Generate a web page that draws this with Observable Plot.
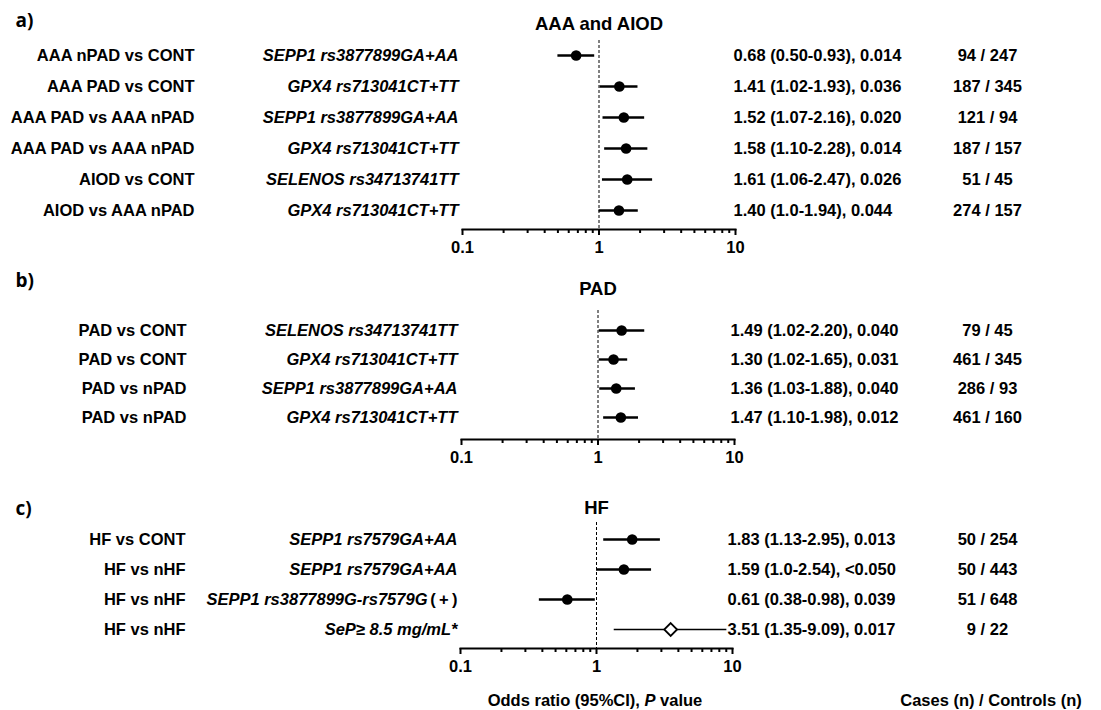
<!DOCTYPE html>
<html><head><meta charset="utf-8">
<script src="https://cdn.jsdelivr.net/npm/d3@7"></script>
<script src="https://cdn.jsdelivr.net/npm/@observablehq/plot@0.6"></script>
<style>
body{margin:0;background:#fff;}
#chart{width:1101px;position:relative;font-family:"Liberation Sans",Arial,sans-serif;color:#000;}
#chart svg{display:block;}
.cap{position:relative;height:20px;font-weight:bold;font-size:16.5px;}
.cap span{position:absolute;top:0;line-height:20px;transform:translateX(-50%);white-space:nowrap;}
</style></head><body><div id="chart"></div>
<script>
// ---- axis ticks ----
const majorTicks = [0.1, 1, 10];
const tickLabels = ["0.1", "1", "10"];
const minorTicks = [0.2, 0.3, 0.4, 0.5, 0.6, 0.7, 0.8, 0.9, 2, 3, 4, 5, 6, 7, 8, 9];

// ---- panel a: AAA and AIOD ----
const aComparison = ["AAA nPAD vs CONT", "AAA PAD vs CONT", "AAA PAD vs AAA nPAD", "AAA PAD vs AAA nPAD", "AIOD vs CONT", "AIOD vs AAA nPAD"];
const aMarker = ["SEPP1 rs3877899GA+AA", "GPX4 rs713041CT+TT", "SEPP1 rs3877899GA+AA", "GPX4 rs713041CT+TT", "SELENOS rs34713741TT", "GPX4 rs713041CT+TT"];
const aOR = [0.68, 1.41, 1.52, 1.58, 1.61, 1.40];
const aLow = [0.50, 1.02, 1.07, 1.10, 1.06, 1.0];
const aHigh = [0.93, 1.93, 2.16, 2.28, 2.47, 1.94];
const aText = ["0.68 (0.50-0.93), 0.014", "1.41 (1.02-1.93), 0.036", "1.52 (1.07-2.16), 0.020", "1.58 (1.10-2.28), 0.014", "1.61 (1.06-2.47), 0.026", "1.40 (1.0-1.94), 0.044"];
const aCases = ["94 / 247", "187 / 345", "121 / 94", "187 / 157", "51 / 45", "274 / 157"];

// ---- panel b: PAD ----
const bComparison = ["PAD vs CONT", "PAD vs CONT", "PAD vs nPAD", "PAD vs nPAD"];
const bMarker = ["SELENOS rs34713741TT", "GPX4 rs713041CT+TT", "SEPP1 rs3877899GA+AA", "GPX4 rs713041CT+TT"];
const bOR = [1.49, 1.30, 1.36, 1.47];
const bLow = [1.02, 1.02, 1.03, 1.10];
const bHigh = [2.20, 1.65, 1.88, 1.98];
const bText = ["1.49 (1.02-2.20), 0.040", "1.30 (1.02-1.65), 0.031", "1.36 (1.03-1.88), 0.040", "1.47 (1.10-1.98), 0.012"];
const bCases = ["79 / 45", "461 / 345", "286 / 93", "461 / 160"];

// ---- panel c: HF ----
const cComparison = ["HF vs CONT", "HF vs nHF", "HF vs nHF", "HF vs nHF"];
const cMarker = ["SEPP1 rs7579GA+AA", "SEPP1 rs7579GA+AA", "SEPP1 rs3877899G-rs7579G", "SeP\u2265 8.5 mg/mL*"];
const cSuffix = ["", "", "(\u2009+\u2009)", ""];
const cSymbol = ["dot", "dot", "dot", "diamond"];
const cOR = [1.83, 1.59, 0.61, 3.51];
const cLow = [1.13, 1.0, 0.38, 1.35];
const cHigh = [2.95, 2.54, 0.98, 9.09];
const cText = ["1.83 (1.13-2.95), 0.013", "1.59 (1.0-2.54), <0.050", "0.61 (0.38-0.98), 0.039", "3.51 (1.35-9.09), 0.017"];
const cCases = ["50 / 254", "50 / 443", "51 / 648", "9 / 22"];

const FONT = "'Liberation Sans', Arial, sans-serif";
const FS = 16.5;

function makeRows(comp, marker, or, lo, hi, text, cases, suffix, symbol) {
  return comp.map((c, i) => ({
    i, comparison: c, marker: marker[i], or: or[i], lo: lo[i], hi: hi[i],
    text: text[i], cases: cases[i],
    suffix: suffix ? suffix[i] : "", symbol: symbol ? symbol[i] : "dot"
  }));
}

function panel(cfg) {
  const rows = cfg.rows;
  const W = 1101;
  return Plot.plot({
    width: W, height: cfg.height,
    marginLeft: cfg.xRange[0], marginRight: W - cfg.xRange[1],
    marginTop: cfg.marginTop, marginBottom: cfg.height - cfg.axisY,
    x: {type: "log", domain: [0.1, 10], range: cfg.xRange, axis: null},
    y: {type: "point", domain: d3.range(rows.length), range: cfg.yRange, padding: 0, axis: null},
    style: {fontFamily: FONT, fontSize: FS + "px", fontWeight: "bold", background: "white", color: "black", overflow: "visible"},
    marks: [
      Plot.frame({anchor: "bottom", strokeWidth: 2, stroke: "black"}),
      Plot.ruleX([1], {stroke: "black", strokeWidth: 1, strokeDasharray: "3,2"}),
      Plot.axisX(minorTicks, {tickSize: 4, strokeWidth: 2, tickFormat: () => ""}),
      Plot.axisX(majorTicks, {tickSize: 6, tickPadding: 6, strokeWidth: 2,
        tickFormat: d => tickLabels[majorTicks.indexOf(d)],
        fontSize: FS, fontWeight: "bold", fontFamily: FONT, fill: "black"}),
      Plot.ruleY(rows, {filter: d => d.symbol === "dot", y: "i", x1: "lo", x2: "hi", stroke: "black", strokeWidth: 2.4}),
      Plot.ruleY(rows, {filter: d => d.symbol === "diamond", y: "i", x1: "lo", x2: "hi", stroke: "black", strokeWidth: 1.6}),
      Plot.dot(rows, {filter: d => d.symbol === "dot", x: "or", y: "i", r: 5.3, fill: "black", stroke: "none"}),
      Plot.dot(rows, {filter: d => d.symbol === "diamond", x: "or", y: "i", symbol: "diamond2", r: 5.8, fill: "white", stroke: "black", strokeWidth: 1.8}),
      // panel letter & title
      Plot.text([cfg.letter], {frameAnchor: "top-left", lineAnchor: "middle", dx: cfg.letterX - cfg.xRange[0], dy: cfg.letterDy, textAnchor: "start", fontSize: 19, fontWeight: "bold", fontFamily: "'Open Sans', sans-serif"}),
      Plot.text([cfg.title], {frameAnchor: "top", lineAnchor: "middle", dy: cfg.titleDy, fontSize: 18.5, fontWeight: "bold"}),
      // left labels
      Plot.text(rows, {y: "i", text: "comparison", frameAnchor: "left", dx: cfg.compRight - cfg.xRange[0], textAnchor: "end", fontSize: FS, fontWeight: "bold"}),
      Plot.text(rows, {filter: d => !d.suffix, y: "i", text: "marker", frameAnchor: "left", dx: cfg.geneRight - cfg.xRange[0], textAnchor: "end", fontSize: FS, fontWeight: "bold", fontStyle: "italic"}),
      Plot.text(rows, {filter: d => d.suffix, y: "i", text: "marker", frameAnchor: "left", dx: cfg.geneRight - 30 - cfg.xRange[0], textAnchor: "end", fontSize: FS, fontWeight: "bold", fontStyle: "italic"}),
      Plot.text(rows, {filter: d => d.suffix, y: "i", text: "suffix", frameAnchor: "left", dx: cfg.geneRight - cfg.xRange[0], textAnchor: "end", fontSize: FS, fontWeight: "bold"}),
      // OR text & cases
      Plot.text(rows, {y: "i", text: "text", frameAnchor: "right", dx: cfg.orLeft - cfg.xRange[1], textAnchor: "start", fontSize: FS, fontWeight: "bold"}),
      Plot.text(rows, {y: "i", text: "cases", frameAnchor: "right", dx: 987 - cfg.xRange[1], textAnchor: "middle", fontSize: FS, fontWeight: "bold"})
    ]
  });
}

const chart = document.getElementById("chart");

chart.appendChild(panel({
  rows: makeRows(aComparison, aMarker, aOR, aLow, aHigh, aText, aCases),
  letter: "a)", title: "AAA and AIOD",
  height: 262, marginTop: 40, axisY: 229, yRange: [55, 210], xRange: [462, 735],
  letterX: 15, letterDy: -20, titleDy: -16,
  compRight: 194, geneRight: 458, orLeft: 733
}));

chart.appendChild(panel({
  rows: makeRows(bComparison, bMarker, bOR, bLow, bHigh, bText, bCases),
  letter: "b)", title: "PAD",
  height: 213, marginTop: 48, axisY: 177, yRange: [67, 156], xRange: [461, 734],
  letterX: 15, letterDy: -30, titleDy: -21,
  compRight: 186, geneRight: 457, orLeft: 730
}));

chart.appendChild(panel({
  rows: makeRows(cComparison, cMarker, cOR, cLow, cHigh, cText, cCases, cSuffix, cSymbol),
  letter: "c)", title: "HF",
  height: 215, marginTop: 47, axisY: 173, yRange: [63, 155], xRange: [460, 732],
  letterX: 15, letterDy: -14, titleDy: -14,
  compRight: 185, geneRight: 457, orLeft: 727
}));

const cap = document.createElement("div");
cap.className = "cap";
cap.innerHTML = '<span style="left:595px">Odds ratio (95%CI), <i>P</i> value</span>' +
                '<span style="left:991px">Cases (n) / Controls (n)</span>';
chart.appendChild(cap);
</script></body></html>
